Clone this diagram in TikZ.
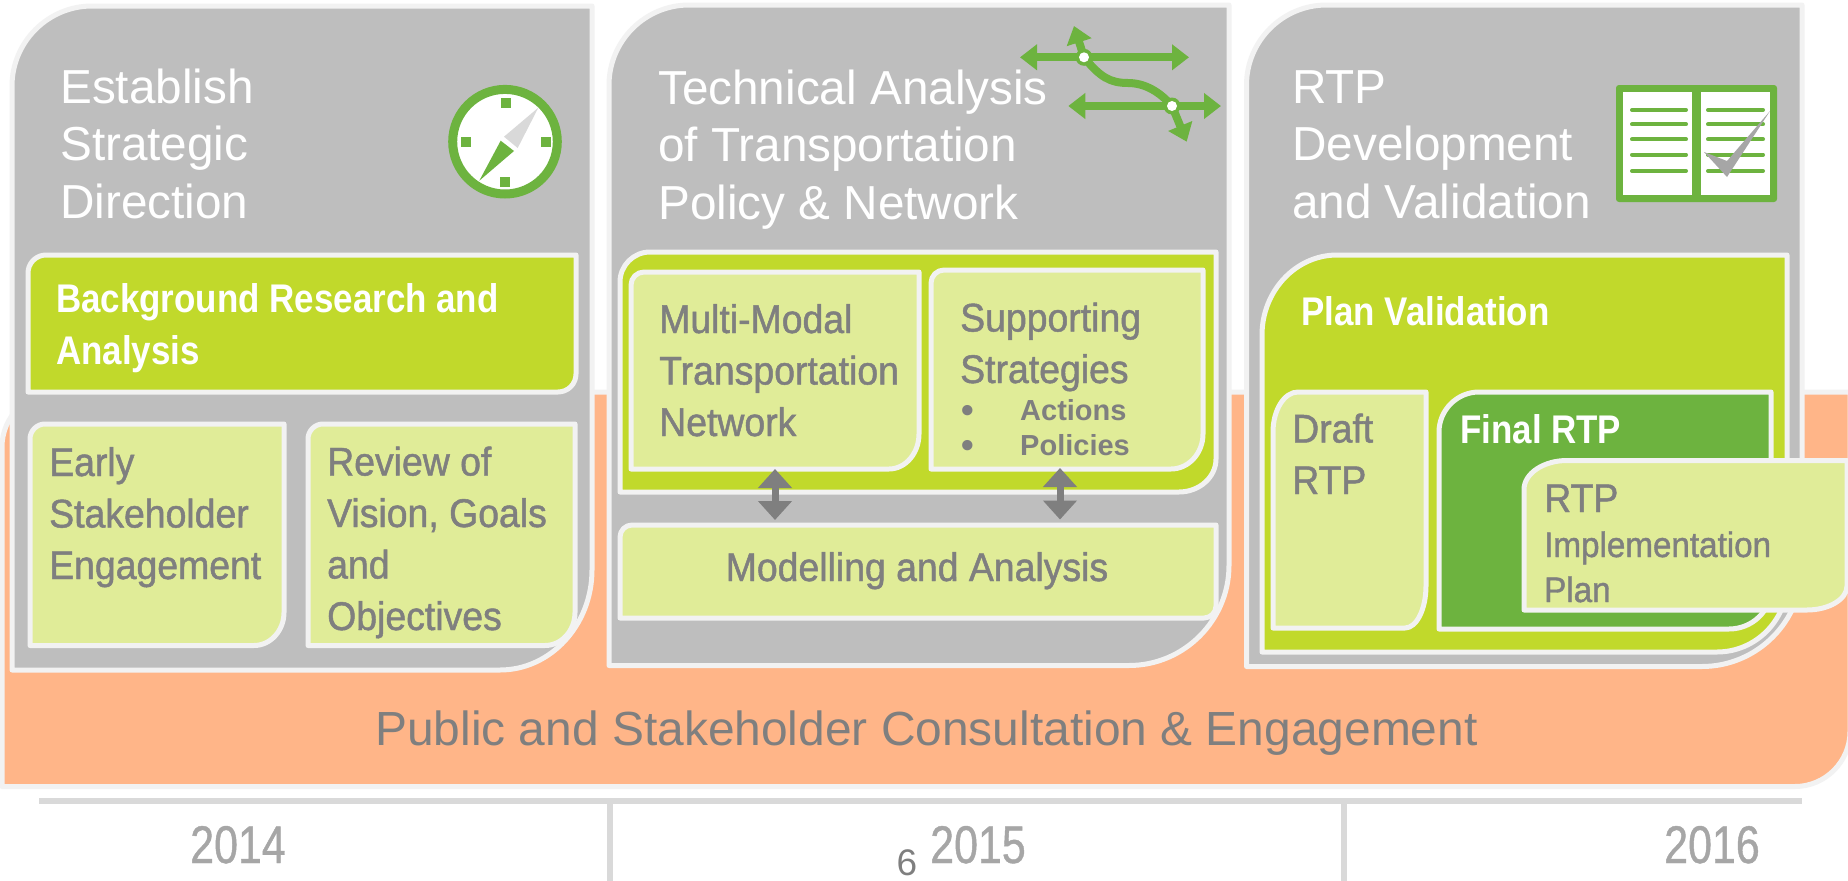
\documentclass[tikz,border=0pt]{standalone}
\usepackage{fontspec}
\setmainfont{Liberation Sans}
\newfontfamily\cond{Liberation Sans}[FakeStretch=0.935,FakeBold=1.2]
\newfontfamily\condw{Liberation Sans Bold}[FakeStretch=0.873]
\newfontfamily\condy{Liberation Sans}[FakeStretch=0.81,FakeBold=0.8]
\usetikzlibrary{arrows.meta}
\definecolor{panel}{HTML}{BEBEBE}
\definecolor{edgec}{HTML}{F2F2F2}
\definecolor{peach}{HTML}{FFB588}
\definecolor{lime}{HTML}{C1D92B}
\definecolor{pale}{HTML}{E0EC98}
\definecolor{leaf}{HTML}{6DB33F}
\definecolor{ink}{HTML}{7F7F7F}
\definecolor{yearc}{HTML}{A6A6A6}
\definecolor{barc}{HTML}{D9D9D9}
\tikzset{
  boxedge/.style={draw=edgec,line width=5pt,line join=round},
  head/.style={text=white,anchor=base west,inner sep=0pt,align=left,font=\fontsize{47.7}{57.5}\selectfont},
  lab/.style={text=ink,anchor=base west,inner sep=0pt,align=left,font=\cond\fontsize{40}{51.5}\selectfont},
  wlab/.style={text=white,anchor=base west,inner sep=0pt,align=left,font=\condw\fontsize{40}{52}\selectfont},
  small/.style={text=ink,anchor=base west,inner sep=0pt,font=\bfseries\fontsize{29}{29}\selectfont},
  year/.style={text=yearc,anchor=base,inner sep=0pt,font=\condy\fontsize{53}{53}\selectfont},
  vlink/.style={{Triangle[width=33pt,length=19pt]}-{Triangle[width=33pt,length=19pt]},draw=ink,line width=7pt},
  route/.style={-{Triangle[width=25pt,length=17pt]},draw=leaf,line width=8pt},
  routeb/.style={{Triangle[width=25pt,length=17pt]}-{Triangle[width=25pt,length=17pt]},draw=leaf,line width=8pt},
  barline/.style={draw=barc,line width=6pt},
  pageline/.style={draw=leaf,line width=4pt,line cap=round}
}
\newcommand{\dbox}[9]{\path[boxedge,fill=#9] (#1,#4) -- (#1,{#2+#6}) .. controls (#1,{#2+0.45*#6}) and ({#1+0.45*#5},#2) .. ({#1+#5},#2) -- (#3,#2) -- (#3,{#4-#8}) .. controls (#3,{#4-0.45*#8}) and ({#3-0.45*#7},#4) .. ({#3-#7},#4) -- cycle;}
\begin{document}
\begin{tikzpicture}[x=1pt,y=-1pt]
\useasboundingbox (0,0) rectangle (1848,881);
\fill[white] (0,0) rectangle (1848,881);
% consultation band
\dbox{2}{392}{1850}{786.5}{55}{55}{55}{55}{peach}
% panels
\dbox{12}{6}{592}{670}{80}{80}{92}{100}{panel}
\dbox{609}{5}{1229}{665.5}{80}{80}{100}{100}{panel}
\dbox{1246.5}{5}{1802}{666.5}{80}{80}{100}{100}{panel}
% panel 1
\dbox{28}{255}{576}{392}{18}{18}{18}{18}{lime}
\dbox{30}{424}{284}{645.5}{15}{15}{30}{33}{pale}
\dbox{308}{424}{575}{645.5}{15}{15}{30}{33}{pale}
% panel 2
\dbox{620}{252}{1216}{492}{30}{30}{37}{33}{lime}
\dbox{631}{272}{919}{469}{13}{13}{30}{35}{pale}
\dbox{931}{270}{1203}{469}{13}{13}{32}{35}{pale}
\dbox{620}{525}{1216}{618}{12}{12}{12}{12}{pale}
% panel 3
\dbox{1262}{255}{1787}{652}{75}{80}{70}{70}{lime}
\dbox{1273}{392}{1426}{628}{25}{40}{21}{42}{pale}
\dbox{1439}{392}{1771}{629}{40}{40}{42}{40}{leaf}
\dbox{1524}{460.5}{1847}{610}{43}{29}{40}{24}{pale}
% headings
\node[head] (h1) at (60,218) {Establish\\Strategic\\Direction};
\node[head] (h2) at (658,219) {Technical Analysis\\of Transportation\\Policy \& Network};
\node[head] (h3) at (1292,218) {RTP\\Development\\and Validation};
% labels
\node[wlab] (t1) at (56,364) {Background Research and\\Analysis};
\node[lab] (t2) at (49,579) {Early\\Stakeholder\\Engagement};
\node[lab] (t3) at (327,630) {Review of\\Vision, Goals\\and\\Objectives};
\node[lab] (t4) at (659,436) {Multi-Modal\\Transportation\\Network};
\node[lab] (t5) at (960,383) {Supporting\\Strategies};
\node[small,font=\bfseries\fontsize{36}{36}\selectfont] (b1) at (961,422) {•};
\node[small,font=\bfseries\fontsize{36}{36}\selectfont] (b2) at (961,457) {•};
\node[small] (t6) at (1020,420) {Actions};
\node[small] (t7) at (1020,455) {Policies};
\node[lab,anchor=base] (t8) at (917,581) {Modelling and Analysis};
\node[wlab] (t9) at (1301,325) {Plan Validation};
\node[lab] (t10) at (1292,494) {Draft\\RTP};
\node[wlab] (t11) at (1460,443) {Final RTP};
\node[lab] (t12) at (1544,512) {RTP};
\node[lab,font=\cond\fontsize{35.5}{45}\selectfont] (t13) at (1544,602) {Implementation\\Plan};
\node[text=ink,anchor=base,inner sep=0pt,font=\fontsize{47.9}{48}\selectfont] (t14) at (926.5,745) {Public and Stakeholder Consultation \& Engagement};
% double arrows
\coordinate (a1) at (775,469); \coordinate (a2) at (775,520);
\coordinate (a3) at (1060,468); \coordinate (a4) at (1060,519.5);
\draw[vlink] (a1) -- (a2);
\draw[vlink] (a3) -- (a4);
% timeline
\coordinate (l0) at (39,801); \coordinate (l1) at (1802,801);
\coordinate (v1) at (610,801); \coordinate (v1b) at (610,881);
\coordinate (v2) at (1344,801); \coordinate (v2b) at (1344,881);
\draw[barline] (l0) -- (l1);
\draw[barline] (v1) -- (v1b);
\draw[barline] (v2) -- (v2b);
\node[year] (y1) at (238,863) {2014};
\node[year] (y2) at (978,863) {2015};
\node[year] (y3) at (1712,863) {2016};
\node[text=ink,anchor=base,inner sep=0pt,font=\fontsize{37}{37}\selectfont] (pg) at (907,875) {6};
% compass
\fill[white] (505,141.7) circle[radius=50];
\draw[leaf,line width=9pt] (505,141.7) circle[radius=52.3];
\fill[leaf] (501,97.7) rectangle (511,107.7);
\fill[leaf] (461,136.7) rectangle (471,146.7);
\fill[leaf] (541,136.7) rectangle (551,146.7);
\fill[leaf] (500,177) rectangle (510,187);
\fill[leaf] (479.3,180.7) -- (500.7,140.7) -- (514,151) -- cycle;
\fill[barc] (538.3,107.7) -- (504,136.7) -- (517.7,148) -- cycle;
% routes icon
\coordinate (r1a) at (1020,57.3); \coordinate (r1b) at (1189,57.3);
\coordinate (r2a) at (1068.3,106); \coordinate (r2b) at (1221,106);
\coordinate (d1) at (1084,57.3); \coordinate (d2) at (1172,106);
\coordinate (tipA) at (1074,26); \coordinate (tipB) at (1186.7,141.7);
\draw[routeb] (r1a) -- (r1b);
\draw[routeb] (r2a) -- (r2b);
\draw[route] (d1) -- (tipA);
\draw[route] (d2) -- (tipB);
\draw[leaf,line width=8pt] (d1) .. controls (1100,77) and (1110,83) .. (1128,83) .. controls (1145,83) and (1160,92) .. (d2);
\fill[leaf] (d1) circle[radius=8.5];
\fill[leaf] (d2) circle[radius=8.5];
\fill[white] (d1) circle[radius=5];
\fill[white] (d2) circle[radius=5];
% book
\fill[leaf,rounded corners=3pt] (1616,85) rectangle (1777,202);
\fill[white] (1623.3,92.3) rectangle (1692,195);
\fill[white] (1701,92.3) rectangle (1770,195);
\foreach \yy in {110,124.3,139.3,154.7,171}{
  \draw[pageline] (1632,\yy) -- (1686,\yy);
  \draw[pageline] (1708,\yy) -- (1763,\yy);
}
\fill[yearc] (1704,152) -- (1727,161) -- (1770,111) -- (1727,177) -- cycle;
\end{tikzpicture}
\end{document}
